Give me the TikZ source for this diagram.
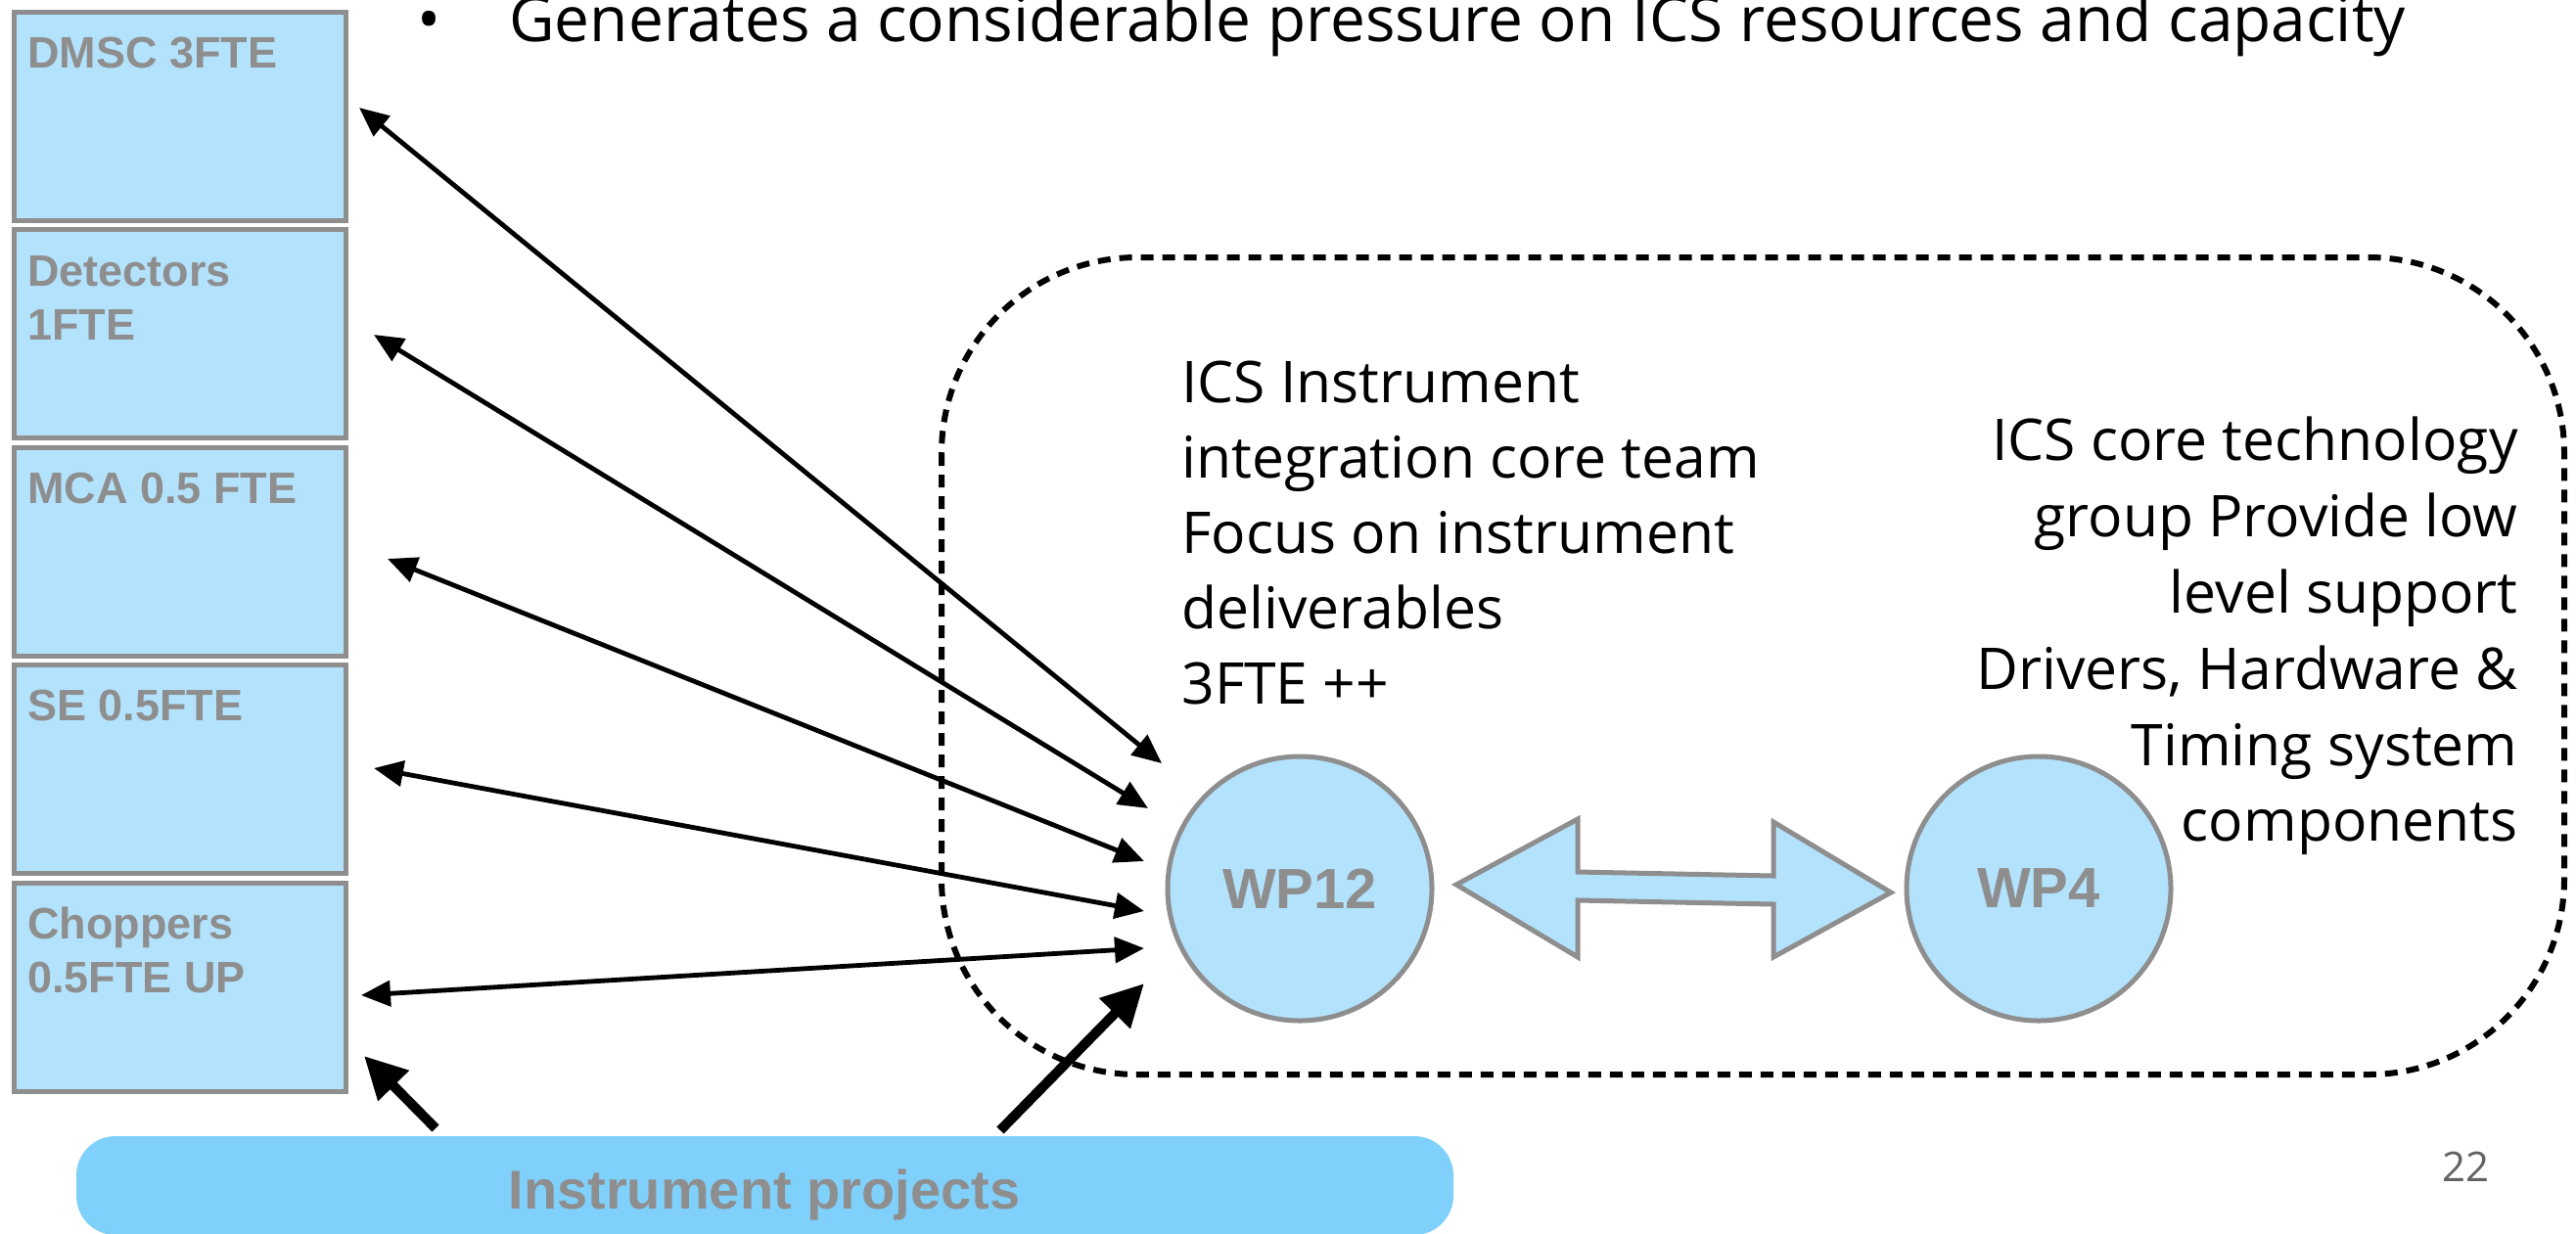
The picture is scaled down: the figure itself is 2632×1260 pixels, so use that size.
\documentclass[tikz,border=0pt]{standalone}
\usepackage{fontspec}
\setmainfont{Open Sans}
\newfontfamily\lsans{Liberation Sans}
\usetikzlibrary{arrows.meta}
\definecolor{boxblue}{RGB}{179,226,253}
\definecolor{barblue}{RGB}{128,208,252}
\definecolor{graylin}{RGB}{142,142,142}
\definecolor{graytext}{RGB}{142,142,142}
\begin{document}
\begin{tikzpicture}[x=0.5pt,y=-0.5pt,
  teambox/.style={draw=graylin, fill=boxblue, line width=2.5pt, minimum width=169.5pt, minimum height=106.5pt, inner sep=0pt},
  boxlabel/.style={font=\lsans\bfseries\fontsize{22.5pt}{27pt}\selectfont, text=graytext, inner sep=0pt},
  bodytext/.style={font=\fontsize{29.4pt}{35pt}\selectfont, text=black, inner sep=0pt},
  wpnode/.style={circle, draw=graylin, fill=boxblue, line width=2.5pt, minimum size=135pt, inner sep=0pt, font=\lsans\bfseries\fontsize{29pt}{34pt}\selectfont, text=graytext},
  barnode/.style={fill=barblue, rounded corners=20pt, minimum width=703.5pt, minimum height=50.5pt, inner sep=0pt},
  dashbox/.style={line width=3pt, dash pattern=on 6.5pt off 4.5pt, rounded corners=100pt},
  thinarrow/.style={line width=2.4pt, {Triangle[length=15pt,width=13pt]}-{Triangle[length=15pt,width=13pt]}},
  thickarrow/.style={line width=5pt, -{Triangle[length=21.5pt,width=21pt]}},
  dblarrow/.style={draw=graylin, fill=boxblue, line width=2.5pt, line join=miter}
]
\useasboundingbox (0,0) rectangle (2632,1260);
\clip (0,0) rectangle (2632,1260);
\fill[white] (0,0) rectangle (2632,1260);

% dashed group
\draw[dashbox] (962,263) rectangle (2620,1098);

% team boxes
\node[teambox] (dmsc) at (184,118.5) {};
\node[teambox] (det) at (184,341) {};
\node[teambox] (mca) at (184,563.5) {};
\node[teambox] (se) at (184,786) {};
\node[teambox] (chop) at (184,1008.5) {};

\node[boxlabel, anchor=base west] (dmscT) at (28,69) {DMSC 3FTE};
\node[boxlabel, anchor=base west] (detT1) at (28,292) {Detectors};
\node[boxlabel, anchor=base west] (detT2) at (28,347) {1FTE};
\node[boxlabel, anchor=base west] (mcaT) at (28,514) {MCA 0.5 FTE};
\node[boxlabel, anchor=base west] (seT) at (28,736) {SE 0.5FTE};
\node[boxlabel, anchor=base west] (chopT1) at (28,959) {Choppers};
\node[boxlabel, anchor=base west] (chopT2) at (28,1014) {0.5FTE UP};

% instrument projects bar
\node[barnode] (proj) at (781.5,1211.5) {};
\node[boxlabel, font=\lsans\bfseries\fontsize{28pt}{33pt}\selectfont, anchor=base] (projT) at (781,1235) {Instrument projects};

% WP nodes
\node[wpnode] (wp12) at (1328,908) {WP12};
\node[wpnode] (wp4) at (2083,908) {WP4};

% double arrow between WP12 and WP4
\draw[dblarrow] (1488,904) -- (1612,837) -- (1612,891) -- (1812,895) -- (1812,840) -- (1932,912)
  -- (1812,978) -- (1812,924) -- (1612,920) -- (1612,978) -- cycle;

% connector end points
\coordinate (a1s) at (367,110);  \coordinate (a1e) at (1187,780);
\coordinate (a2s) at (382,342);  \coordinate (a2e) at (1173,826);
\coordinate (a3s) at (396,571);  \coordinate (a3e) at (1169,880);
\coordinate (a4s) at (382,785);  \coordinate (a4e) at (1169,931);
\coordinate (a5s) at (369,1017); \coordinate (a5e) at (1169,969);
\coordinate (t1s) at (445,1153); \coordinate (t1e) at (372,1079);
\coordinate (t2s) at (1022,1155); \coordinate (t2e) at (1169,1005);

\draw[thinarrow] (a1s) -- (a1e);
\draw[thinarrow] (a2s) -- (a2e);
\draw[thinarrow] (a3s) -- (a3e);
\draw[thinarrow] (a4s) -- (a4e);
\draw[thinarrow] (a5s) -- (a5e);
\draw[thickarrow] (t1s) -- (t1e);
\draw[thickarrow] (t2s) -- (t2e);

% texts
\node[bodytext, font=\fontsize{32pt}{38pt}\selectfont, anchor=base] (bullet) at (439,42) {•};
\node[bodytext, font=\fontsize{32pt}{38pt}\selectfont, anchor=base west] (topline) at (520,42) {Generates a considerable pressure on ICS resources and capacity};

\node[bodytext, anchor=base west] (l1) at (1207,411) {ICS Instrument};
\node[bodytext, anchor=base west] (l2) at (1207,488) {integration core team};
\node[bodytext, anchor=base west] (l3) at (1207,565) {Focus on instrument};
\node[bodytext, anchor=base west] (l4) at (1207,642) {deliverables};
\node[bodytext, anchor=base west] (l5) at (1207,719) {3FTE ++};

\node[bodytext, anchor=base east] (r1) at (2573,470) {ICS core technology};
\node[bodytext, anchor=base east] (r2) at (2573,548) {group Provide low};
\node[bodytext, anchor=base east] (r3) at (2573,626) {level support};
\node[bodytext, anchor=base east] (r4) at (2573,704) {Drivers, Hardware \&};
\node[bodytext, anchor=base east] (r5) at (2573,782) {Timing system};
\node[bodytext, anchor=base east] (r6) at (2573,859) {components};

\node[bodytext, font=\fontsize{21pt}{25pt}\selectfont, text=graytext!70!black, anchor=base] (pg) at (2519,1207) {22};
\end{tikzpicture}
\end{document}
